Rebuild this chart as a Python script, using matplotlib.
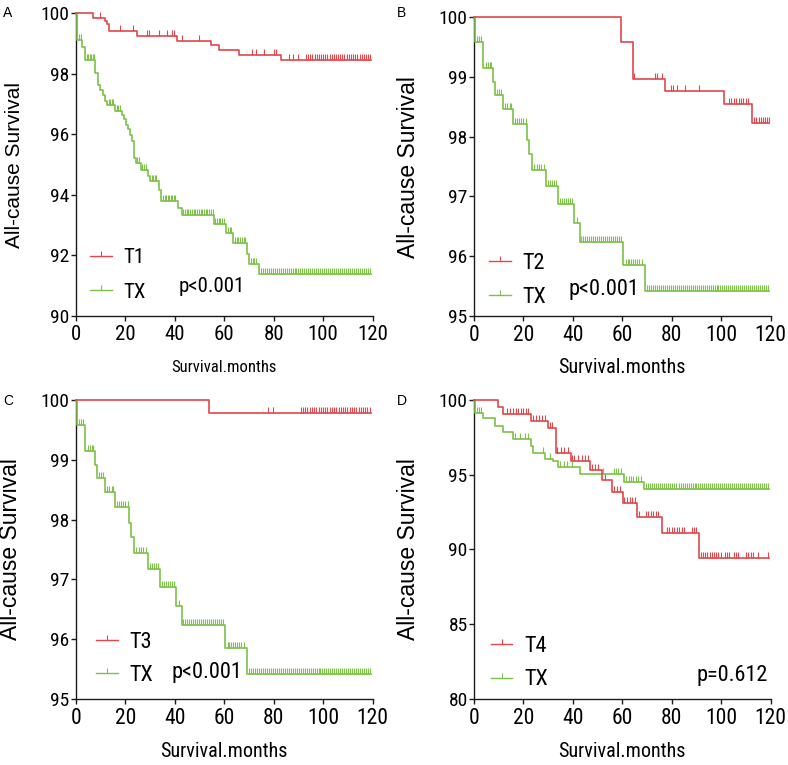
import numpy as np
import matplotlib
matplotlib.use("Agg")
import matplotlib.pyplot as plt
from matplotlib.lines import Line2D
from matplotlib.path import Path
from matplotlib import font_manager

# ---------------- data ----------------
# Panel A: T1 vs TX
a_t1_time = [6.7, 11.6, 12.4, 13.2, 24.8, 41.0, 54.8, 57.7, 66.1, 82.9]
a_t1_surv = [99.85, 99.74, 99.63, 99.40, 99.24, 99.07, 98.94, 98.78, 98.61, 98.45]
a_t1_cens = [9.7, 17.9, 22.9, 28.6, 29.4, 33.7, 36.9, 38.8, 39.5, 43.0, 49.6, 71.1, 72.9,
             76.0, 80.1, 80.9, 86.3, 87.9, 89.9, 93.0, 93.9, 94.8, 95.6, 96.5, 97.4, 98.2,
             99.1, 100.0, 100.8, 101.7, 102.6, 103.4, 104.3, 105.2, 106.0, 106.9, 107.8,
             108.6, 109.5, 110.4, 111.2, 112.1, 113.0, 113.8, 114.7, 115.6, 116.4, 117.3,
             118.2, 118.9]
a_t1_end = 119.2

a_tx_time = [0.4, 2.4, 3.5, 7.8, 8.9, 9.8, 10.8, 11.9, 12.5, 15.6, 18.6, 19.5, 20.4, 21.0,
             22.0, 22.6, 23.3, 24.3, 26.4, 29.1, 30.1, 33.7, 34.5, 41.3, 42.8, 55.8, 60.7,
             63.6, 69.0, 70.1, 74.2]
a_tx_surv = [99.13, 98.88, 98.44, 98.03, 97.64, 97.48, 97.29, 97.09, 96.98, 96.78, 96.63,
             96.51, 96.32, 96.16, 95.99, 95.77, 95.22, 95.05, 94.83, 94.61, 94.45, 94.17,
             93.79, 93.55, 93.35, 93.04, 92.74, 92.41, 92.03, 91.72, 91.37]
a_tx_cens = [1.3, 2.0, 4.5, 5.0, 5.6, 6.2, 6.8, 7.3, 13.2, 13.8, 14.4, 15.0, 16.5, 17.2, 17.8,
             24.8, 25.5, 26.9, 27.5, 28.2, 30.6, 31.2, 31.8, 32.5, 35.4, 36.0, 36.6, 37.2,
             37.8, 38.4, 39.0, 39.6, 40.2, 43.4, 44.1, 44.8, 45.5, 46.2, 46.9, 47.6, 48.3,
             49.0, 49.7, 50.4, 51.1, 51.8, 52.5, 53.2, 53.9, 54.6, 55.3, 56.3, 57.0, 57.7,
             58.4, 59.1, 59.8, 61.5, 62.2, 62.9, 64.3, 65.0, 65.7, 66.4, 67.1, 67.8, 68.4,
             70.8, 71.5, 72.2, 72.9, 74.8, 75.6, 76.4, 77.2, 78.0, 78.8, 79.6, 80.4, 81.2,
             82.0, 82.8, 83.6, 84.4, 85.2, 86.0, 86.8, 87.6, 88.4, 89.2, 90.0, 90.8, 91.6,
             92.4, 93.2, 94.0, 94.8, 95.6, 96.4, 97.2, 98.0, 98.8, 99.6, 100.4, 101.2,
             102.0, 102.8, 103.6, 104.4, 105.2, 106.0, 106.8, 107.6, 108.4, 109.2, 110.0,
             110.8, 111.6, 112.4, 113.2, 114.0, 114.8, 115.6, 116.4, 117.2, 118.0, 118.8]
a_tx_end = 119.2

# Panel B: T2 vs TX
b_t2_time = [59.3, 64.2, 77.1, 101.1, 112.3]
b_t2_surv = [99.59, 98.97, 98.76, 98.54, 98.23]
b_t2_cens = [64.7, 73.2, 74.1, 76.2, 79.8, 80.6, 82.2, 85.3, 91.0, 103.0, 104.0, 105.0,
             106.0, 107.0, 108.0, 109.0, 110.0, 111.0, 113.3, 114.2, 115.1, 116.0, 116.9,
             117.8, 118.7, 119.3]
b_t2_end = 119.4

# TX curve shared by panels B and C
bc_tx_time = [0.4, 3.6, 7.8, 8.5, 11.9, 15.8, 21.6, 22.4, 23.3, 29.0, 34.0, 40.5, 42.7,
              60.4, 69.0]
bc_tx_surv = [99.59, 99.15, 98.91, 98.70, 98.46, 98.21, 97.95, 97.71, 97.44, 97.17, 96.87,
              96.56, 96.24, 95.85, 95.42]
bc_tx_cens = [1.3, 2.2, 3.0, 4.7, 5.5, 6.3, 7.0, 9.2, 10.1, 11.0, 12.5, 13.5, 14.5, 15.1,
              16.4, 17.3, 18.2, 19.1, 20.0, 20.9, 24.3, 25.3, 26.3, 27.3, 28.3, 29.9, 30.8,
              31.6, 32.5, 33.3, 34.7, 35.6, 36.4, 37.3, 38.1, 39.0, 39.8, 41.5, 43.4, 44.2,
              45.0, 45.8, 46.6, 47.4, 48.2, 49.0, 49.8, 50.6, 51.4, 52.2, 53.0, 53.8, 54.6,
              55.4, 56.2, 57.0, 57.8, 58.6, 59.4, 61.3, 62.1, 62.9, 63.7, 64.5, 65.3, 66.1,
              66.9, 68.1, 70.1, 70.9, 71.7, 72.5, 73.3, 74.1, 74.9, 75.7, 76.5, 77.3, 78.1,
              78.9, 79.7, 80.5, 81.3, 82.1, 82.9, 83.7, 84.5, 85.3, 86.1, 86.9, 87.7, 88.5,
              89.3, 90.1, 90.9, 91.7, 92.5, 93.3, 94.1, 94.9, 95.7, 96.5, 97.3, 98.1, 98.9,
              99.7, 100.5, 101.3, 102.1, 102.9, 103.7, 104.5, 105.3, 106.1, 106.9, 107.7,
              108.5, 109.3, 110.1, 110.9, 111.7, 112.5, 113.3, 114.1, 114.9, 115.7, 116.5,
              117.3, 118.1, 118.9]
bc_tx_end = 119.3

# Panel C: T3 vs TX
c_t3_time = [53.9]
c_t3_surv = [99.79]
c_t3_cens = [77.8, 79.8, 90.9, 91.8, 92.7, 93.6, 94.5, 95.4, 96.3, 97.2, 98.1, 99.0, 99.9,
             100.8, 101.7, 102.6, 103.5, 104.4, 105.3, 106.2, 107.1, 108.0, 108.9, 109.8,
             110.7, 111.6, 112.5, 113.4, 114.3, 115.2, 116.1, 117.0, 117.9, 118.8]
c_t3_end = 119.2

# Panel D: T4 vs TX
d_t4_time = [9.8, 11.6, 22.9, 30.1, 33.0, 39.1, 46.9, 51.6, 56.0, 60.1, 65.8, 76.2, 91.1]
d_t4_surv = [99.58, 99.08, 98.64, 98.12, 96.45, 95.96, 95.33, 94.66, 93.88, 93.10, 92.20,
             91.13, 89.41]
d_t4_cens = [13.2, 14.5, 15.8, 17.0, 18.0, 19.0, 20.0, 21.0, 22.0, 24.0, 25.2, 26.4, 27.6,
             28.7, 30.7, 31.4, 33.7, 35.0, 36.5, 38.0, 39.5, 40.5, 42.0, 43.5, 45.0, 46.2,
             47.6, 48.8, 50.3, 53.0, 56.6, 57.7, 59.0, 60.7, 61.9, 63.0, 64.0, 65.1, 66.9,
             69.5, 70.5, 71.5, 72.5, 73.5, 74.5, 78.0, 79.0, 80.0, 81.0, 82.0, 83.0, 84.0,
             85.0, 88.0, 89.0, 90.0, 91.7, 92.6, 93.5, 94.4, 95.3, 96.2, 97.1, 98.0, 98.9,
             99.8, 101.5, 102.4, 103.3, 105.0, 105.9, 106.8, 110.0, 111.0, 112.0, 113.0,
             115.0, 119.0]
d_t4_end = 119.2

d_tx_time = [0.3, 3.6, 8.5, 11.9, 15.9, 22.9, 24.0, 28.7, 31.8, 33.8, 42.9, 60.7, 68.9]
d_tx_surv = [99.15, 98.79, 98.28, 97.86, 97.39, 96.96, 96.45, 96.07, 95.90, 95.55, 95.07,
             94.55, 94.03]
d_tx_cens = [1.2, 2.0, 2.8, 16.6, 18.6, 20.6, 22.0, 28.0, 30.8, 34.8, 36.5, 37.5, 39.5, 52.3,
             56.6, 57.5, 58.4, 59.3, 61.5, 62.5, 63.5, 64.5, 65.5, 66.5, 67.5, 69.6, 70.4,
             71.2, 72.0, 72.8, 73.6, 74.4, 75.2, 76.0, 76.8, 77.6, 78.4, 79.2, 80.0, 80.8,
             81.6, 82.8, 83.6, 84.4, 85.2, 86.0, 86.8, 87.6, 88.4, 89.2, 90.0, 90.8, 91.6,
             92.4, 93.2, 94.0, 94.8, 95.6, 96.4, 97.2, 98.0, 98.8, 99.6, 100.4, 101.2,
             102.0, 102.8, 103.6, 104.4, 105.2, 106.0, 106.8, 107.6, 108.4, 109.2, 110.0,
             110.8, 111.6, 112.4, 113.2, 114.0, 114.8, 115.6, 116.4, 117.2, 118.0, 118.8]
d_tx_end = 119.2

panel_letters = ["A", "B", "C", "D"]
group_labels = ["T1", "T2", "T3", "T4"]
p_texts = ["p<0.001", "p<0.001", "p<0.001", "p=0.612"]
y_limits = [(90, 100), (95, 100), (95, 100), (80, 100)]
y_ticks = [[90, 92, 94, 96, 98, 100], [95, 96, 97, 98, 99, 100],
           [95, 96, 97, 98, 99, 100], [80, 85, 90, 95, 100]]
x_ticks = [0, 20, 40, 60, 80, 100, 120]

RED = "#E2474C"
GREEN = "#7DC148"

# ---------------- fonts ----------------
fl = font_manager.fontManager.ttflist
names = {f.name for f in fl}
REG = "Liberation Sans" if "Liberation Sans" in names else "DejaVu Sans"
NARROW = None
NSTRETCH = "normal"
for cand in ["Liberation Sans Narrow", "Arial Narrow", "Roboto Condensed",
             "Open Sans Condensed", "Noto Sans Condensed", "DejaVu Sans Condensed"]:
    if cand in names:
        NARROW = cand
        break
if NARROW is None:
    for f in fl:
        if f.stretch in ("condensed", "semi-condensed") and f.style == "normal" \
                and f.weight in (400, "normal", "regular"):
            NARROW = f.name
            NSTRETCH = f.stretch
            break
HAVE_NARROW = NARROW is not None
if NARROW is None:
    NARROW = REG


def nfs(size):
    return size if HAVE_NARROW else size * 0.84


def nfont(size):
    return {"family": NARROW, "stretch": NSTRETCH, "size": nfs(size)}


tick_marker = Path([(0, 0), (0, 1)], [Path.MOVETO, Path.LINETO])


def full_curve(times, survs, end):
    t = np.concatenate([[0.0], times, [end]])
    s = np.concatenate([[100.0], survs, [survs[-1]]])
    return t, s


def surv_at(t, s, pts):
    idx = np.searchsorted(t, pts, side="right") - 1
    return s[idx]


def draw_km(ax, times, survs, cens, end, color):
    t, s = full_curve(times, survs, end)
    ax.step(t, s, where="post", color=color, lw=1.2, clip_on=False, zorder=3)
    cens = np.asarray(cens)
    ax.plot(cens, surv_at(t, s, cens), linestyle="none", marker=tick_marker,
            markersize=8, markeredgewidth=0.8, color=color, clip_on=False, zorder=3)


fig = plt.figure(figsize=(7.88, 7.65), dpi=100)

rects = [[0.0964, 0.587, 0.3765, 0.3957],
         [0.6015, 0.587, 0.3765, 0.3905],
         [0.0964, 0.0867, 0.3765, 0.3901],
         [0.6015, 0.0867, 0.3765, 0.3901]]
letter_pos = [(3 / 788, 1 - 6 / 765), (397 / 788, 1 - 6 / 765),
              (3 / 788, 1 - 394 / 765), (397 / 788, 1 - 394 / 765)]
legend_anchor = [(0.047, 0.1355), (0.051, 0.119), (0.069, 0.134), (0.056, 0.119)]
legend_spacing = [0.75, 0.62, 0.58, 0.6]
p_pos = [(0.347, 0.097, "left"), (0.32, 0.087, "left"), (0.323, 0.089, "left"),
         (0.991, 0.078, "right")]
ylab_x = [-0.175, -0.182, -0.182, -0.182]
xlab_y = [-0.145, -0.141, -0.145, -0.145]

curves = [
    (a_t1_time, a_t1_surv, a_t1_cens, a_t1_end, a_tx_time, a_tx_surv, a_tx_cens, a_tx_end),
    (b_t2_time, b_t2_surv, b_t2_cens, b_t2_end, bc_tx_time, bc_tx_surv, bc_tx_cens, bc_tx_end),
    (c_t3_time, c_t3_surv, c_t3_cens, c_t3_end, bc_tx_time, bc_tx_surv, bc_tx_cens, bc_tx_end),
    (d_t4_time, d_t4_surv, d_t4_cens, d_t4_end, d_tx_time, d_tx_surv, d_tx_cens, d_tx_end),
]

for i in range(4):
    small = (i == 0)
    ax = fig.add_axes(rects[i])
    rt, rs, rc, re, gt, gs, gc, ge = curves[i]
    draw_km(ax, gt, gs, gc, ge, GREEN)
    draw_km(ax, rt, rs, rc, re, RED)

    ax.set_xlim(0, 120)
    ax.set_ylim(*y_limits[i])
    ax.set_xticks(x_ticks)
    ax.set_yticks(y_ticks[i])
    for sp in ["top", "right"]:
        ax.spines[sp].set_visible(False)
    for sp in ["left", "bottom"]:
        ax.spines[sp].set_linewidth(1.0)
        ax.spines[sp].set_color("#1a1a1a")
    ax.tick_params(axis="both", direction="out", length=3.5, width=1.0, color="#1a1a1a")
    ax.tick_params(axis="y", pad=1)
    ax.tick_params(axis="x", pad=3)
    for lab in ax.get_xticklabels():
        lab.set_fontproperties(font_manager.FontProperties(**nfont(15 if small else 15.5)))
    for lab in ax.get_yticklabels():
        lab.set_fontproperties(font_manager.FontProperties(**nfont(14 if small else 14)))

    ax.set_ylabel("All-cause Survival", family=REG, fontsize=15 if small else 16.5)
    ax.yaxis.set_label_coords(ylab_x[i], 0.5)
    ax.set_xlabel("Survival.months",
                  fontproperties=font_manager.FontProperties(**nfont(12 if small else 14.5)))
    ax.xaxis.set_label_coords(0.5, xlab_y[i])
    ax.xaxis.label.set_verticalalignment("top")

    handles = [Line2D([], [], color=RED, lw=1.0, marker=tick_marker, markersize=7,
                      markeredgewidth=0.8),
               Line2D([], [], color=GREEN, lw=1.0, marker=tick_marker, markersize=7,
                      markeredgewidth=0.8)]
    lp = nfont(15 if small else 16)
    ax.legend(handles, [group_labels[i], "TX"], loc="center left",
              bbox_to_anchor=legend_anchor[i], frameon=False, numpoints=1,
              prop=font_manager.FontProperties(**lp),
              handlelength=1.05 * 15 / lp["size"], handletextpad=0.55 * 15 / lp["size"],
              labelspacing=legend_spacing[i] * 15 / lp["size"], borderpad=0,
              borderaxespad=0)

    px, py, ha = p_pos[i]
    ax.text(px, py, p_texts[i], transform=ax.transAxes, ha=ha, va="center",
            fontproperties=font_manager.FontProperties(**nfont(15 if small else 16)))

    fig.text(letter_pos[i][0], letter_pos[i][1], panel_letters[i], ha="left", va="top",
             family=REG, fontsize=10)

fig.savefig("out.png", dpi=100)
